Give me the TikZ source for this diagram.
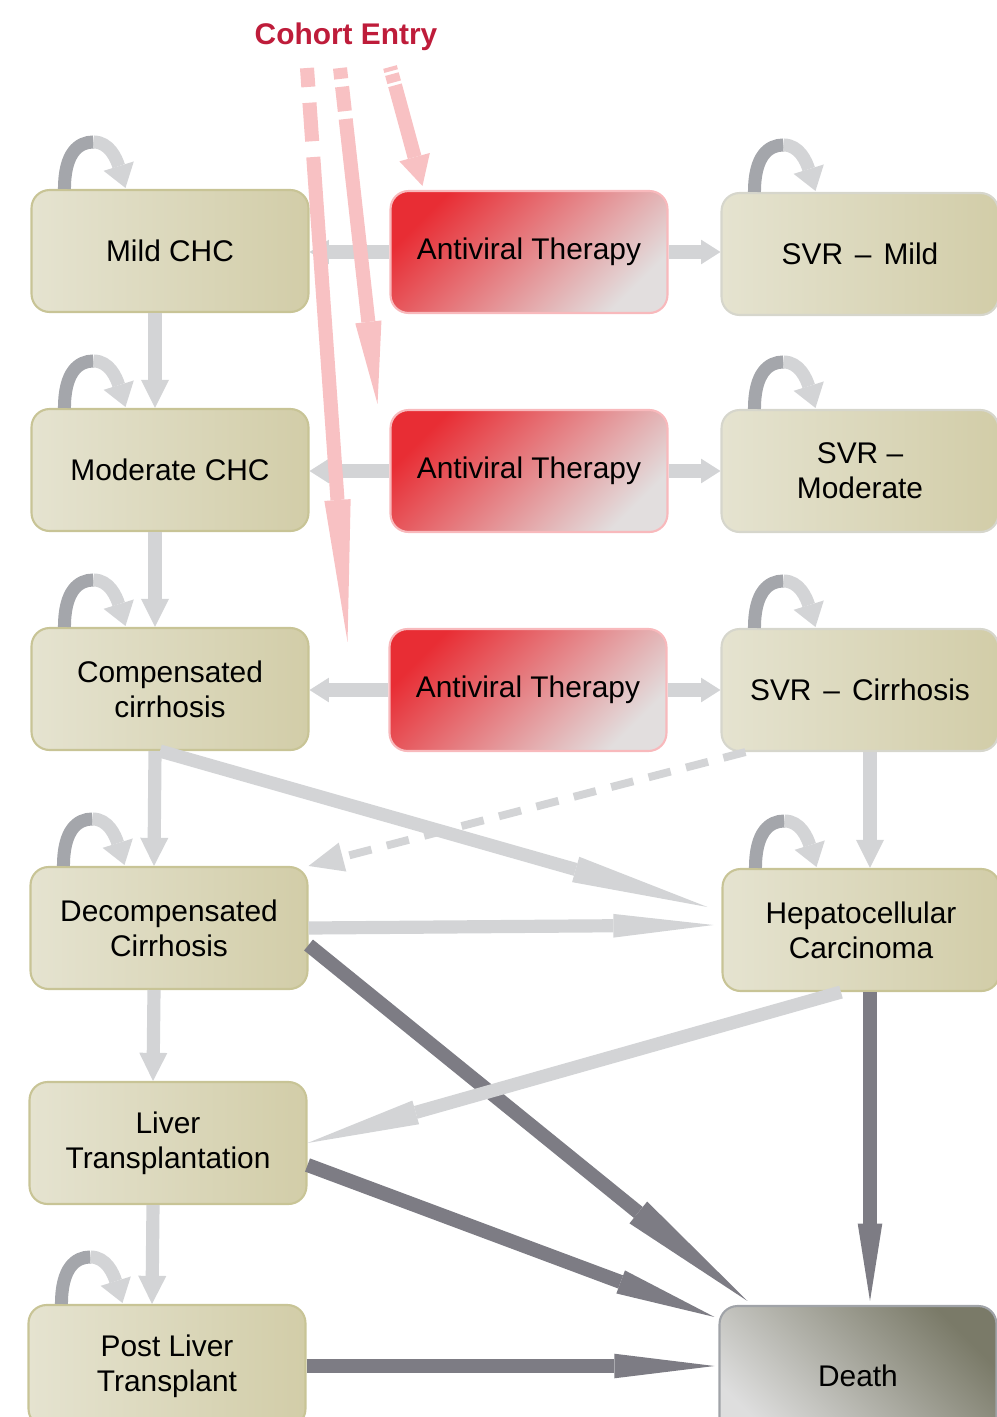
\documentclass[tikz,border=0pt]{standalone}
\usepackage{fontspec}
\setmainfont{Liberation Sans}
\usepackage{tikz}
\usetikzlibrary{arrows.meta}
\usetikzlibrary{calc}
\definecolor{tanlight}{RGB}{229, 227, 208}
\definecolor{tandark}{RGB}{210, 205, 168}
\definecolor{tanline}{RGB}{200, 196, 150}
\definecolor{svrline}{RGB}{214, 214, 204}
\definecolor{avred}{RGB}{232, 45, 52}
\definecolor{avgray}{RGB}{226, 222, 222}
\definecolor{avline}{RGB}{248, 185, 188}
\definecolor{deathdark}{RGB}{122, 122, 104}
\definecolor{deathlight}{RGB}{222, 222, 222}
\definecolor{deathline}{RGB}{160, 163, 168}
\definecolor{arrlight}{RGB}{211, 212, 214}
\definecolor{arrdark}{RGB}{125, 124, 132}
\definecolor{arrpink}{RGB}{248, 193, 195}
\definecolor{loopdark}{RGB}{164, 166, 171}
\definecolor{cohortred}{RGB}{190, 28, 58}
\tikzstyle{stage} = [rectangle,rounded corners=0.36cm,draw=tanline,line width=1.2pt,left color=tanlight,right color=tandark,minimum width=5.54cm,minimum height=2.44cm,inner sep=0pt,align=center,font=\fontsize{17}{20}\selectfont]
\tikzstyle{svrstage} = [stage,draw=svrline]
\tikzstyle{therapy} = [stage,draw=avline,top color=avred,bottom color=avgray,shading angle=45]
\tikzstyle{absorb} = [stage,draw=deathline,top color=deathdark,bottom color=deathlight,shading angle=-45,minimum height=2.8cm]
\tikzstyle{lightarr} = [draw=arrlight,line width=7.5pt]
\tikzstyle{darkarr} = [draw=arrdark,line width=8pt]
\tikzstyle{entryarr} = [draw=arrpink,line width=8pt]
\tikzstyle{loopleg} = [draw=loopdark,line width=7.4pt]
\tikzset{arrowhead/.style 2 args={-{Triangle[length=#1,width=#2,line width=0pt 0 0]}}}
\tikzstyle{loophead} = [draw=arrlight,line width=7.4pt,arrowhead={13pt}{18pt}]
\newcommand{\stageloop}[1]{%
  \begin{scope}[shift={(#1.north west)}]
    \draw[loopleg] (34,0) .. controls (34,-36) and (48,-47) .. (63,-47);
    \draw[loophead] (63,-47) .. controls (79,-47) and (86,-30) .. (95,-1);
  \end{scope}}

\begin{document}
\begin{tikzpicture}[x=0.02cm, y=-0.02cm]
    \useasboundingbox (0,0) rectangle (997,1417);

      \node[stage] (mild)     at (170,251)  {Mild CHC};
      \node[stage] (moderate) at (170,470)  {Moderate CHC};
      \node[stage] (comp)     at (170,689)  {Compensated\\cirrhosis};
      \node[stage] (decomp)   at (169,928)  {Decompensated\\Cirrhosis};
      \node[stage] (ltx)      at (168,1143) {Liver\\Transplantation};
      \node[stage] (postlt)   at (167,1366) {Post Liver\\Transplant};

      \node[therapy] (at1) at (529,252) {Antiviral Therapy};
      \node[therapy] (at2) at (529,471) {Antiviral Therapy};
      \node[therapy] (at3) at (528,690) {Antiviral Therapy};

      \node[svrstage] (svrmild) at (860,254) {SVR\hspace{0.4em}–\hspace{0.4em}Mild};
      \node[svrstage] (svrmod)  at (860,471) {SVR –\\Moderate};
      \node[svrstage] (svrcirr) at (860,690) {SVR\hspace{0.4em}–\hspace{0.4em}Cirrhosis};
      \node[stage]    (hcc)     at (861,930) {Hepatocellular\\Carcinoma};
      \node[absorb]   (death)   at (858,1376) {Death};

      \node[font=\fontsize{17}{20}\selectfont\bfseries,text=cohortred] (cohort) at (346,37) {Cohort Entry};
      \coordinate (entry1) at (307,68);
      \coordinate (entry2) at (340,68);
      \coordinate (entry3) at (390,67);

      \foreach \n in {mild,moderate,comp,decomp,postlt,svrmild,svrmod,svrcirr,hcc}
        \stageloop{\n};

      \foreach \a/\b in {mild/moderate,moderate/comp,comp/decomp,decomp/ltx,ltx/postlt}
        \draw[lightarr,arrowhead={16pt}{16pt}] ($(\a.south)+(-15,0)$) -- ($(\b.north)+(-15,0)$);

      \draw[lightarr,arrowhead={11pt}{14pt}] (at1.west) -- (mild.east |- at1.west);
      \draw[lightarr,arrowhead={11pt}{14pt}] (at2.west) -- (moderate.east |- at2.west);
      \draw[lightarr,arrowhead={11pt}{14pt}] (at3.west) -- (comp.east |- at3.west);
      \draw[lightarr,arrowhead={11pt}{14pt}] (at1.east) -- (svrmild.west |- at1.east);
      \draw[lightarr,arrowhead={11pt}{14pt}] (at2.east) -- (svrmod.west |- at2.east);
      \draw[lightarr,arrowhead={11pt}{14pt}] (at3.east) -- (svrcirr.west |- at3.east);

      \draw[darkarr,arrowhead={80pt}{16pt}] ($(decomp.east)+(0,17)$) -- ($(death.north west)+(29,-4)$);
      \draw[darkarr,arrowhead={57pt}{14pt}] ($(ltx.east)+(0,22)$) -- ($(death.north west)+(-4,12)$);
      \draw[darkarr,arrowhead={57pt}{14pt}] (postlt.east) -- ($(death.west |- postlt.east)+(-4,0)$);
      \draw[darkarr,arrowhead={44pt}{14pt}] ($(hcc.south)+(9,0)$) -- ($(death.north)+(12,-4)$);

      \draw[lightarr,arrowhead={16pt}{16pt}] ($(svrcirr.south)+(10,0)$) -- ($(hcc.north)+(9,0)$);
      \draw[lightarr,line width=4.5pt,dash pattern=on 13pt off 9pt,arrowhead={20pt}{17pt}] ($(svrcirr.south west)+(25,0)$) -- (decomp.north east);
      \draw[lightarr,arrowhead={78pt}{15pt}] ($(comp.south)+(-10,0)$) -- ($(hcc.west)+(-14,-23)$);
      \draw[lightarr,arrowhead={57pt}{13.5pt}] (decomp.east) -- ($(hcc.west)+(-8,-5)$);
      \draw[lightarr,arrowhead={64pt}{14pt}] ($(hcc.south)+(-20,0)$) -- (ltx.east);

      \draw[entryarr,dash pattern=on 10.8pt off 9pt on 22pt off 9pt on 400pt,arrowhead={81pt}{15pt}] (entry1) -- ($(comp.north east)+(38,15)$);
      \draw[entryarr,dash pattern=on 6.2pt off 4.5pt on 14pt off 4.5pt on 400pt,arrowhead={47pt}{15pt}] (entry2) -- ($(moderate.north east)+(68,-4)$);
      \draw[entryarr,dash pattern=on 2.4pt off 1.8pt on 4.8pt off 1.8pt on 200pt,arrowhead={17pt}{18pt}] (entry3) -- ($(at1.north west)+(33,-4)$);
    \end{tikzpicture}
\end{document}
